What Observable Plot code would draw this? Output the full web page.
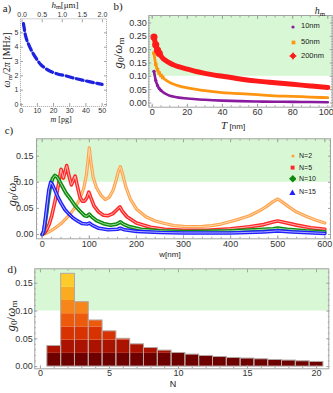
<!DOCTYPE html>
<html><head><meta charset="utf-8">
<script src="https://cdn.jsdelivr.net/npm/d3@7"></script>
<script src="https://cdn.jsdelivr.net/npm/@observablehq/plot@0.6"></script>
<style>
body{margin:0;background:#fff;}
#root{position:relative;width:333px;height:393px;overflow:hidden;font-family:"Liberation Sans",Arial,sans-serif;background:#fff;}
.p{position:absolute;overflow:visible;}
.p svg{overflow:visible;}
.t{position:absolute;white-space:nowrap;color:#222;line-height:1;}
.serif{font-family:"Liberation Serif","DejaVu Serif",serif;}
sub{font-size:70%;vertical-align:-0.25em;line-height:0;}
</style></head>
<body><div id="root"></div>
<script>
// ---------- Panel a data ----------
const aMass = [1.4, 2, 2.5, 3.5, 4.6, 6, 7.7, 10, 12, 15, 18, 22, 28.5, 34, 39, 45, 50];
const aFreq = [5.65, 5.25, 4.9, 4.5, 4.2, 3.85, 3.5, 3.1, 2.8, 2.52, 2.32, 2.15, 1.97, 1.8, 1.67, 1.52, 1.4];
const aTicksX = [0, 10, 20, 30, 40, 50];
const aTicksY = [0, 1, 2, 3, 4, 5];
const hTickLabels = ["0.0", "0.5", "1.0", "1.5", "2.0"];
const hTickMass = [0.6, 13.0, 25.4, 37.8, 50.2];

// ---------- Panel b data ----------
const bT = [1, 2, 3, 4, 5, 6, 8, 10, 12, 15, 20, 25, 30, 40, 50, 60, 70, 80, 90, 100];
const b10nm = [0.119, 0.085, 0.066, 0.054, 0.047, 0.041, 0.033, 0.027, 0.024, 0.02, 0.017, 0.014, 0.012, 0.009, 0.007, 0.0055, 0.0047, 0.004, 0.0035, 0.003];
const b50nm = [0.187, 0.145, 0.125, 0.112, 0.103, 0.096, 0.085, 0.077, 0.071, 0.064, 0.057, 0.051, 0.046, 0.039, 0.035, 0.031, 0.027, 0.025, 0.022, 0.02];
const b200nm = [0.247, 0.218, 0.198, 0.186, 0.176, 0.168, 0.158, 0.15, 0.143, 0.136, 0.127, 0.118, 0.111, 0.1, 0.09, 0.082, 0.076, 0.07, 0.064, 0.058];
const bLegend = ["10nm", "50nm", "200nm"];
const bTicksX = [0, 20, 40, 60, 80, 100];
const bTicksY = [0, 0.05, 0.1, 0.15, 0.2, 0.25, 0.3];

// ---------- Panel c data ----------
const cW2 = [0, 10, 20, 30, 40, 50, 60, 70, 80, 88, 94, 98, 100, 103, 108, 115, 125, 134, 142, 150, 157, 162, 166, 170, 177, 187, 200, 220, 240, 260, 280, 300, 320, 340, 360, 380, 400, 420, 440, 460, 475, 490, 500, 510, 525, 540, 560, 580, 600];
const cN2 = [0, 0.003, 0.008, 0.014, 0.021, 0.03, 0.04, 0.052, 0.068, 0.088, 0.115, 0.148, 0.166, 0.142, 0.11, 0.09, 0.075, 0.067, 0.071, 0.084, 0.104, 0.122, 0.13, 0.118, 0.093, 0.068, 0.049, 0.034, 0.026, 0.021, 0.017, 0.0155, 0.015, 0.0155, 0.017, 0.02, 0.025, 0.03, 0.036, 0.045, 0.053, 0.063, 0.068, 0.062, 0.052, 0.043, 0.035, 0.028, 0.022];
const cW5 = [0, 5, 10, 15, 20, 25, 30, 35, 40, 45, 52, 57, 62, 70, 74, 80, 85, 90, 95, 99, 103, 110, 120, 130, 140, 150, 158, 165, 170, 180, 200, 230, 260, 300, 350, 400, 440, 470, 490, 500, 510, 540, 570, 600];
const cN5 = [0, 0.003, 0.01, 0.02, 0.035, 0.055, 0.075, 0.098, 0.125, 0.108, 0.132, 0.112, 0.095, 0.112, 0.095, 0.072, 0.064, 0.064, 0.071, 0.081, 0.071, 0.055, 0.043, 0.037, 0.036, 0.04, 0.047, 0.053, 0.045, 0.034, 0.022, 0.014, 0.01, 0.008, 0.008, 0.011, 0.015, 0.019, 0.024, 0.026, 0.024, 0.018, 0.013, 0.01];
const cW10 = [0, 3, 6, 10, 14, 18, 22, 27, 32, 38, 44, 50, 60, 70, 80, 90, 95, 100, 105, 115, 130, 145, 158, 166, 172, 185, 210, 250, 300, 350, 400, 450, 490, 500, 520, 560, 600];
const cN10 = [0, 0.005, 0.02, 0.045, 0.075, 0.095, 0.107, 0.113, 0.11, 0.1, 0.09, 0.08, 0.068, 0.055, 0.045, 0.036, 0.035, 0.039, 0.034, 0.027, 0.021, 0.018, 0.02, 0.024, 0.02, 0.015, 0.01, 0.007, 0.0055, 0.006, 0.007, 0.009, 0.011, 0.012, 0.01, 0.007, 0.005];
const cW15 = [0, 3, 6, 10, 14, 18, 22, 27, 33, 40, 48, 56, 65, 75, 85, 95, 100, 106, 120, 140, 160, 166, 175, 200, 250, 300, 400, 470, 500, 530, 600];
const cN15 = [0, 0.006, 0.025, 0.055, 0.085, 0.1, 0.095, 0.085, 0.072, 0.06, 0.048, 0.04, 0.032, 0.026, 0.021, 0.02, 0.022, 0.018, 0.012, 0.009, 0.01, 0.012, 0.009, 0.006, 0.004, 0.003, 0.003, 0.005, 0.007, 0.005, 0.002];
const cLegend = ["N=2", "N=5", "N=10", "N=15"];
const cTicksX = [0, 100, 200, 300, 400, 500, 600];
const cTicksY = [0, 0.05, 0.1, 0.15];

// ---------- Panel d data ----------
const dN = [1, 2, 3, 4, 5, 6, 7, 8, 9, 10, 11, 12, 13, 14, 15, 16, 17, 18, 19, 20];
const dG = [0.037, 0.167, 0.116, 0.083, 0.0634, 0.05, 0.04, 0.0334, 0.0287, 0.0244, 0.0215, 0.019, 0.0172, 0.0154, 0.0144, 0.0131, 0.0118, 0.0108, 0.0095, 0.0083];
const dBandEdges = [0, 0.0238, 0.0476, 0.0714, 0.0952, 0.119, 0.1428, 0.1666];
const dBandColors = ["#6e0000", "#ab1300", "#d73200", "#ee5a0c", "#f6861a", "#fbab1f", "#fdcc2b"];
const dTicksX = [0, 5, 10, 15, 20];
const dTicksY = [0, 0.05, 0.1, 0.15];

const threshold = 0.1;
const gray = "#a3a3a3";
const green = "#d8f8d5";
const f2 = d3.format(".2f");

function within(arr, dom) { return arr.filter(v => v >= dom[0] && v <= dom[1]); }

function axes({xt, yt, xdom, ydom, xminor, yminor, fmtX, fmtY, fs, xpad, ypad, xlast}) {
  const blank = () => "";
  const common = {stroke: gray, label: null};
  const m = [];
  if (xminor) {
    const xm = within(xminor, xdom);
    m.push(Plot.axisX(xm, {anchor: "bottom", tickSize: -1.5, tickFormat: blank, ...common}));
    m.push(Plot.axisX(xm, {anchor: "top", tickSize: -1.5, tickFormat: blank, ...common}));
  }
  if (yminor) {
    const ym = within(yminor, ydom);
    m.push(Plot.axisY(ym, {anchor: "left", tickSize: -1.5, tickFormat: blank, ...common}));
    m.push(Plot.axisY(ym, {anchor: "right", tickSize: -1.5, tickFormat: blank, ...common}));
  }
  if (xlast) {
    const last = xt[xt.length - 1];
    m.push(Plot.axisX(xt.slice(0, -1), {anchor: "bottom", tickSize: -3, tickPadding: xpad, tickFormat: fmtX, fill: "#333", fontSize: fs, ...common}));
    m.push(Plot.axisX([last], {anchor: "bottom", tickSize: -3, tickPadding: xpad, tickFormat: fmtX, fill: "#333", fontSize: fs, textAnchor: "end", dx: xlast, ...common}));
  } else {
    m.push(Plot.axisX(xt, {anchor: "bottom", tickSize: -3, tickPadding: xpad, tickFormat: fmtX, fill: "#333", fontSize: fs, ...common}));
  }
  m.push(Plot.axisX(xt, {anchor: "top", tickSize: -3, tickFormat: blank, ...common}));
  m.push(Plot.axisY(yt, {anchor: "left", tickSize: -3, tickPadding: ypad, tickFormat: fmtY, fill: "#333", fontSize: fs, ...common}));
  m.push(Plot.axisY(yt, {anchor: "right", tickSize: -3, tickFormat: blank, ...common}));
  m.push(Plot.frame({stroke: gray}));
  return m;
}

const root = document.getElementById("root");
function place(svg, left, top) {
  const d = document.createElement("div");
  d.className = "p";
  d.style.left = left + "px"; d.style.top = top + "px";
  d.appendChild(svg);
  root.appendChild(d);
}
function label(html, x, y, {size = 10, rot = false, cls = "", color = "#222"} = {}) {
  const d = document.createElement("div");
  d.className = "t " + cls;
  d.style.left = x + "px"; d.style.top = y + "px";
  d.style.fontSize = size + "px";
  d.style.color = color;
  d.style.transform = "translate(-50%,-50%)" + (rot ? " rotate(-90deg)" : "");
  d.innerHTML = html;
  root.appendChild(d);
}
function marker(shape, color, s, x, y) {
  const d = document.createElement("div");
  d.className = "t";
  d.style.left = (x - s) + "px"; d.style.top = (y - s) + "px";
  let inner;
  if (shape === "circle") inner = `<circle cx="${s}" cy="${s}" r="${s * 0.8}" fill="${color}"/>`;
  else if (shape === "square") inner = `<rect x="${s * 0.25}" y="${s * 0.25}" width="${s * 1.5}" height="${s * 1.5}" fill="${color}"/>`;
  else if (shape === "diamond") inner = `<path d="M${s},0L${2 * s},${s}L${s},${2 * s}L0,${s}Z" fill="${color}"/>`;
  else if (shape === "triangle") inner = `<path d="M${s},${s * 0.15}L${2 * s * 0.95},${2 * s * 0.9}L${2 * s * 0.05},${2 * s * 0.9}Z" fill="${color}"/>`;
  else if (shape === "star") inner = `<path d="M${s},0L${s * 1.35},${s * 0.65}L${2 * s},${s}L${s * 1.35},${s * 1.35}L${s},${2 * s}L${s * 0.65},${s * 1.35}L0,${s}L${s * 0.65},${s * 0.65}Z" fill="${color}"/><circle cx="${s}" cy="${s}" r="${s * 0.6}" fill="${color}"/>`;
  d.innerHTML = `<svg width="${2 * s}" height="${2 * s}" style="display:block">${inner}</svg>`;
  root.appendChild(d);
}

const baseStyle = {fontFamily: "'Liberation Sans', Arial, sans-serif", fontSize: "9px", background: "transparent", overflow: "visible"};

// ---------- Panel a ----------
{
  const xdom = [-0.4, 52.7], ydom = [-0.14, 5.98];
  const data = aMass.map((m, i) => ({m, f: aFreq[i]}));
  const hMap = new Map(hTickMass.map((p, i) => [p, hTickLabels[i]]));
  const svg = Plot.plot({
    width: 112, height: 125, marginLeft: 20, marginRight: 6, marginTop: 18.3, marginBottom: 19,
    x: {domain: xdom}, y: {domain: ydom},
    style: {...baseStyle, fontSize: "7px"},
    marks: [
      Plot.line(data, {x: "m", y: "f", stroke: "#1e22e0", strokeWidth: 3.2, strokeDasharray: "7,3.5", curve: "catmull-rom"}),
      Plot.axisX(hTickMass, {anchor: "top", tickSize: -3, tickPadding: 5, tickFormat: d => hMap.get(d), stroke: gray, fill: "#333", fontSize: 7, label: null}),
      Plot.axisX(aTicksX, {anchor: "bottom", tickSize: -3, tickPadding: 5, stroke: gray, fill: "#333", fontSize: 7, label: null}),
      Plot.axisY(aTicksY, {anchor: "left", tickSize: -3, tickPadding: 5, stroke: gray, fill: "#333", fontSize: 7, label: null}),
      Plot.axisY(aTicksY, {anchor: "right", tickSize: -3, tickFormat: () => "", stroke: gray, label: null}),
      Plot.frame({stroke: gray, strokeDasharray: "1,1"})
    ]
  });
  place(svg, 0, 0);
}

// ---------- Panel b ----------
{
  const xdom = [-1.94, 102.5], ydom = [-0.0158, 0.328];
  const mk = (arr) => bT.map((t, i) => ({t, g: arr[i]}));
  const d10 = mk(b10nm), d50 = mk(b50nm), d200 = mk(b200nm);
  const svg = Plot.plot({
    width: 223, height: 125, marginLeft: 38.3, marginRight: 1.3, marginTop: 15, marginBottom: 18.3,
    x: {domain: xdom}, y: {domain: ydom},
    style: baseStyle,
    marks: [
      Plot.rect([threshold], {x1: xdom[0], x2: xdom[1], y1: d => d, y2: ydom[1], fill: green}),
      Plot.line(d10, {x: "t", y: "g", stroke: "#8a1a9e", strokeWidth: 2.6, curve: "monotone-x"}),
      Plot.dot(d10.filter(d => d.t <= 5), {x: "t", y: "g", r: 1.6, fill: "#8a1a9e"}),
      Plot.line(d50, {x: "t", y: "g", stroke: "#ff9410", strokeWidth: 2.8, curve: "monotone-x"}),
      Plot.dot(d50.filter(d => d.t <= 6), {x: "t", y: "g", r: 2, fill: "#ff9410", symbol: "square"}),
      Plot.line(d200, {x: "t", y: "g", stroke: "#ff1a1a", strokeWidth: 5, curve: "monotone-x"}),
      Plot.dot(d200.filter(d => d.t <= 4), {x: "t", y: "g", r: 3.6, fill: "#ff1a1a"}),
      ...axes({xt: bTicksX, yt: bTicksY, xdom, ydom, xminor: d3.range(-5, 105, 5), yminor: d3.range(-0.01, 0.335, 0.01), fmtX: d3.format("d"), fmtY: f2, fs: 9, xpad: 4.5, ypad: 5, xlast: 6})
    ]
  });
  place(svg, 110, 0);
}

// ---------- Panel c ----------
{
  const xdom = [-12.1, 612], ydom = [-0.0082, 0.1833];
  const mk = (w, v) => w.map((x, i) => ({w: x, g: v[i]}));
  const series = [
    {d: mk(cW2, cN2), c: "#ffa24a", l: "#ffd8b2", sw: 3.2},
    {d: mk(cW5, cN5), c: "#ff2626", l: "#ffb0b0", sw: 3.6},
    {d: mk(cW10, cN10), c: "#128a12", l: "#9ee09e", sw: 3.8},
    {d: mk(cW15, cN15), c: "#1f1fff", l: "#b0b0ff", sw: 3.6}
  ];
  const lines = [];
  for (const s of series) {
    lines.push(Plot.line(s.d, {x: "w", y: "g", stroke: s.c, strokeWidth: s.sw, strokeLinejoin: "round"}));
    lines.push(Plot.line(s.d, {x: "w", y: "g", stroke: s.l, strokeWidth: 1, strokeLinejoin: "round"}));
  }
  const svg = Plot.plot({
    width: 333, height: 135, marginLeft: 36, marginRight: 3, marginTop: 13.3, marginBottom: 21.7,
    x: {domain: xdom}, y: {domain: ydom},
    style: baseStyle,
    marks: [
      Plot.rect([threshold], {x1: xdom[0], x2: xdom[1], y1: d => d, y2: ydom[1], fill: green}),
      ...lines,
      ...axes({xt: cTicksX, yt: cTicksY, xdom, ydom, xminor: d3.range(0, 620, 20), yminor: d3.range(0, 0.19, 0.01), fmtX: d3.format("d"), fmtY: f2, fs: 9, xpad: 5, ypad: 6})
    ]
  });
  place(svg, 0, 125);
}

// ---------- Panel d ----------
{
  const xdom = [-0.41, 20.89], ydom = [-0.004, 0.176];
  const segs = [];
  dN.forEach((n, i) => {
    const h = dG[i];
    for (let k = 0; k < dBandColors.length; k++) {
      const lo = dBandEdges[k], hi = Math.min(dBandEdges[k + 1], h);
      if (lo < h) segs.push({x1: n - 0.5, x2: n + 0.5, y1: lo, y2: hi, c: dBandColors[k]});
    }
  });
  const bars = dN.map((n, i) => ({x1: n - 0.5, x2: n + 0.5, y1: 0, y2: dG[i]}));
  const svg = Plot.plot({
    width: 333, height: 133, marginLeft: 34.3, marginRight: 4.7, marginTop: 8.3, marginBottom: 24.7,
    x: {domain: xdom}, y: {domain: ydom},
    style: baseStyle,
    marks: [
      Plot.rect([threshold], {x1: xdom[0], x2: xdom[1], y1: d => d, y2: ydom[1], fill: green}),
      Plot.rect(segs, {x1: "x1", x2: "x2", y1: "y1", y2: "y2", fill: "c"}),
      Plot.rect(bars, {x1: "x1", x2: "x2", y1: "y1", y2: "y2", fill: "none", stroke: "#b3a6a3", strokeWidth: 1}),
      ...axes({xt: dTicksX, yt: dTicksY, xdom, ydom, xminor: d3.range(0, 21, 1), yminor: d3.range(0, 0.176, 0.01), fmtX: d3.format("d"), fmtY: f2, fs: 9, xpad: 3.5, ypad: 5})
    ]
  });
  place(svg, 0, 260);
}

// ---------- Text overlays ----------
const G = `<i>g</i><sub>0</sub>/<i>ω</i><sub>m</sub>`;
label("a)", 7, 8, {size: 11, cls: "serif"});
label(`<i>h</i><sub>m</sub>[μm]`, 65, 5, {size: 9, cls: "serif"});
label(`<i>ω</i><sub>m</sub>/2<i>π</i> [MHz]`, 7, 60, {size: 10, rot: true, cls: "serif"});
label(`<i>m</i> [pg]`, 61, 120, {size: 8, cls: "serif"});

label("b)", 118, 6, {size: 11, cls: "serif"});
label(G, 117, 53, {size: 13, rot: true, cls: "serif"});
label(`<i>h</i><sub>m</sub>`, 320, 11, {size: 10, cls: "serif"});
const bCols = ["#8a1a9e", "#ff9410", "#ff1a1a"];
const bShapes = ["circle", "square", "star"];
const bSizes = [2, 2.5, 4];
const bY = [26.7, 42, 56];
bLegend.forEach((t, i) => {
  marker(bShapes[i], bCols[i], bSizes[i], 293.3, bY[i]);
  const d = document.createElement("div");
  d.className = "t"; d.style.left = "301px"; d.style.top = (bY[i] - 4.5) + "px"; d.style.fontSize = "7.5px";
  d.textContent = t; root.appendChild(d);
});
label(`<span class="serif" style="font-size:11px;font-style:italic">T</span> <span style="font-size:8px">[nm]</span>`, 233, 124.5, {size: 9});

label("c)", 9, 130, {size: 11, cls: "serif"});
label(G, 11, 191, {size: 13, rot: true, cls: "serif"});
const cCols = ["#ffa24a", "#ff2626", "#128a12", "#1f1fff"];
const cShapes = ["circle", "square", "diamond", "triangle"];
const cSizes = [2, 2.6, 3.8, 3.4];
const cY = [155.7, 167.7, 179, 192.3];
cLegend.forEach((t, i) => {
  marker(cShapes[i], cCols[i], cSizes[i], 292.5, cY[i]);
  const d = document.createElement("div");
  d.className = "t"; d.style.left = "299px"; d.style.top = (cY[i] - 4) + "px"; d.style.fontSize = "7px";
  d.textContent = t; root.appendChild(d);
});
label("w[nm]", 170, 255, {size: 8});

label("d)", 12, 269, {size: 11, cls: "serif"});
label(G, 10, 316, {size: 13, rot: true, cls: "serif"});
label("N", 173, 384, {size: 9});
</script>
</body></html>
